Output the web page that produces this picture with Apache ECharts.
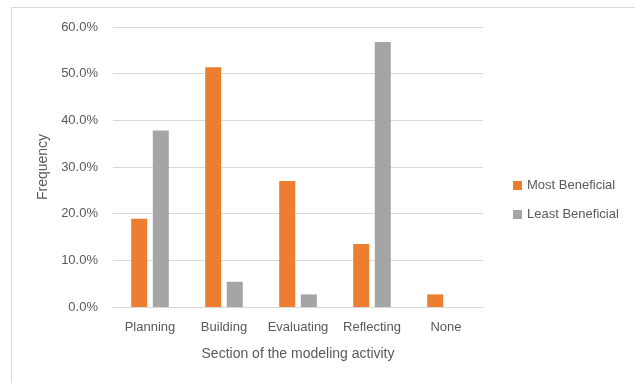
<!DOCTYPE html>
<html>
<head>
<meta charset="utf-8">
<style>
  html, body { margin: 0; padding: 0; background: #fff; }
  #chart { width: 635px; height: 383px; }
</style>
<script src="https://cdn.jsdelivr.net/npm/echarts@6/dist/echarts.min.js"></script>
</head>
<body>
<div id="chart"></div>
<script>
const categories = ["Planning", "Building", "Evaluating", "Reflecting", "None"];
const mostBeneficial = [18.9, 51.4, 27.0, 13.5, 2.7];
const leastBeneficial = [37.8, 5.4, 2.7, 56.8, 0];
const FONT = "'Liberation Sans', Arial, sans-serif";
const TEXT = "#595959";

const chart = echarts.init(document.getElementById("chart"), null, { renderer: "canvas" });
chart.setOption({
  animation: false,
  backgroundColor: "#ffffff",
  textStyle: { fontFamily: FONT },
  graphic: [{
    type: "rect",
    shape: { x: 11.5, y: 7.5, width: 640, height: 400 },
    style: { fill: "none", stroke: "#d9d9d9", lineWidth: 1 },
    silent: true
  }],
  legend: {
    orient: "vertical",
    left: 508,
    top: 174,
    itemWidth: 9,
    itemHeight: 9,
    itemGap: 16,
    icon: "rect",
    textStyle: { fontFamily: FONT, fontSize: 13, color: TEXT },
    data: ["Most Beneficial", "Least Beneficial"]
  },
  grid: { left: 113, right: 152, top: 27, bottom: 76 },
  xAxis: {
    type: "category",
    data: categories,
    name: "Section of the modeling activity",
    nameLocation: "middle",
    nameGap: 40,
    nameTextStyle: { fontFamily: FONT, fontSize: 14, color: TEXT },
    axisLine: { lineStyle: { color: "#d9d9d9" } },
    axisTick: { show: false },
    axisLabel: { fontFamily: FONT, fontSize: 13, color: TEXT, margin: 14, interval: 0 }
  },
  yAxis: {
    type: "value",
    min: 0,
    max: 60,
    interval: 10,
    name: "Frequency",
    nameLocation: "middle",
    nameGap: 60,
    nameTextStyle: { fontFamily: FONT, fontSize: 14, color: TEXT },
    axisLine: { show: false },
    axisTick: { show: false },
    axisLabel: { fontFamily: FONT, fontSize: 13, color: TEXT, margin: 15, formatter: v => v.toFixed(1) + "%" },
    splitLine: { lineStyle: { color: "#d9d9d9" } }
  },
  series: [
    { name: "Most Beneficial", type: "bar", data: mostBeneficial, barWidth: 16, barGap: "35%", itemStyle: { color: "#ED7D31" } },
    { name: "Least Beneficial", type: "bar", data: leastBeneficial, barWidth: 16, itemStyle: { color: "#A5A5A5" } }
  ]
});
</script>
</body>
</html>
